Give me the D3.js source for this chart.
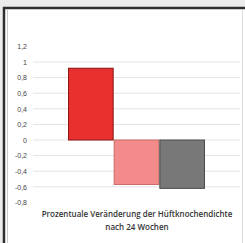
<!DOCTYPE html>
<html>
<head>
<meta charset="utf-8">
<script src="https://cdn.jsdelivr.net/npm/d3@7"></script>
<style>
  body { margin: 0; background: #ebebeb; }
  svg { display: block; }
</style>
</head>
<body>
<div id="chart"></div>
<script>
// Data
const groups = ["g1", "g2", "g3"];
const values = [0.92, -0.57, -0.62];
const barColors = ["#e8302e", "#f28b89", "#787878"];
const edgeColors = ["#8a1414", "#c86a68", "#4a4a4a"];
const yTicks = [-0.8, -0.6, -0.4, -0.2, 0, 0.2, 0.4, 0.6, 0.8, 1, 1.2];
const gridTicks = [-0.6, -0.4, -0.2, 0, 0.2, 0.4, 0.6, 0.8, 1];
const titleLines = ["Prozentuale Veränderung der Hüftknochendichte", "nach 24 Wochen"];

const W = 245, H = 243;

const svg = d3.select("#chart")
    .append("svg")
    .attr("width", W)
    .attr("height", H);

// Panel with dark frame on top and left
svg.append("rect")
    .attr("x", 0).attr("y", 0)
    .attr("width", W).attr("height", H)
    .attr("fill", "#ebebeb");

svg.append("rect")
    .attr("x", 4).attr("y", 8)
    .attr("width", W - 4).attr("height", H)
    .attr("fill", "#ffffff");

svg.append("line")
    .attr("x1", 3).attr("x2", W)
    .attr("y1", 8).attr("y2", 8)
    .attr("stroke", "#2e2e2e")
    .attr("stroke-width", 2.5);

svg.append("line")
    .attr("x1", 4).attr("x2", 4)
    .attr("y1", 7).attr("y2", H)
    .attr("stroke", "#2e2e2e")
    .attr("stroke-width", 2.5);

svg.append("line")
    .attr("x1", 7.5).attr("x2", 7.5)
    .attr("y1", 10).attr("y2", H)
    .attr("stroke", "#c8c8c8");

svg.append("line")
    .attr("x1", 242.5).attr("x2", 242.5)
    .attr("y1", 10).attr("y2", H)
    .attr("stroke", "#dcdcdc");

// Scales
const y = d3.scaleLinear()
    .domain([-0.8, 1.2])
    .range([202.4, 46.4]);

const x = d3.scaleBand()
    .domain(groups)
    .range([68, 205])
    .padding(0);

const de = d3.formatLocale({ decimal: ",", thousands: ".", grouping: [3], currency: ["", " €"], minus: "-" });
const fmt = de.format("");

// Gridlines
svg.append("g")
    .selectAll("line")
    .data(gridTicks)
    .enter()
    .append("line")
    .attr("x1", 33)
    .attr("x2", 240)
    .attr("y1", d => y(d))
    .attr("y2", d => y(d))
    .attr("stroke", "#e4e4e4")
    .attr("stroke-width", 1);

// Y axis labels
const yAxis = svg.append("g")
    .attr("transform", "translate(30,0)")
    .call(d3.axisLeft(y).tickValues(yTicks).tickFormat(fmt).tickSize(0).tickPadding(3));
yAxis.select(".domain").remove();
yAxis.selectAll("text")
    .attr("fill", "#444")
    .style("font-family", "'Liberation Sans', sans-serif")
    .style("font-size", "7px");

// Bars
const data = groups.map((g, i) => ({ g: g, v: values[i], c: barColors[i], e: edgeColors[i] }));

svg.append("g")
    .selectAll("rect")
    .data(data)
    .enter()
    .append("rect")
    .attr("x", d => x(d.g) + 0.5)
    .attr("y", d => y(Math.max(0, d.v)))
    .attr("width", x.bandwidth() - 1)
    .attr("height", d => Math.abs(y(d.v) - y(0)))
    .attr("fill", d => d.c)
    .attr("stroke", d => d.e)
    .attr("stroke-width", 1);

// Title below the plot
const title = svg.append("text")
    .attr("x", 137)
    .attr("y", 217)
    .attr("text-anchor", "middle")
    .attr("fill", "#333")
    .style("font-family", "'Open Sans', sans-serif")
    .style("font-size", "8px")
    .style("font-weight", "600");

titleLines.forEach((t, i) => {
    title.append("tspan")
        .attr("x", 137)
        .attr("dy", i === 0 ? 0 : 13)
        .text(t);
});
</script>
</body>
</html>
